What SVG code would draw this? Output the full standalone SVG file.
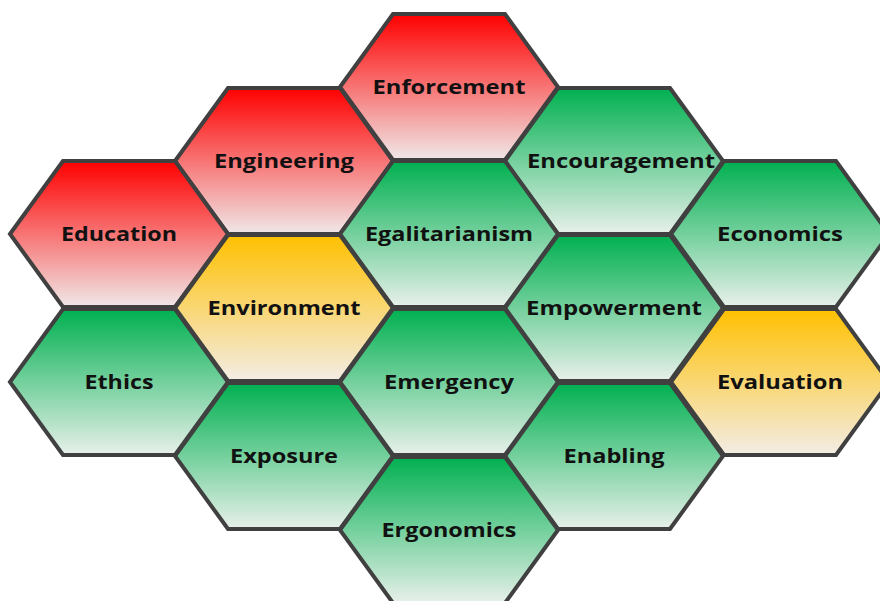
<svg xmlns="http://www.w3.org/2000/svg" width="880" height="601" viewBox="0 0 880 601">
<defs>
<linearGradient id="gr" x1="0" y1="0" x2="0" y2="1"><stop offset="0" stop-color="#ff0000"/><stop offset="1" stop-color="#f0e8e8"/></linearGradient>
<linearGradient id="gg" x1="0" y1="0" x2="0" y2="1"><stop offset="0" stop-color="#00b050"/><stop offset="1" stop-color="#e8f0ea"/></linearGradient>
<linearGradient id="gy" x1="0" y1="0" x2="0" y2="1"><stop offset="0" stop-color="#ffc000"/><stop offset="1" stop-color="#f3ede6"/></linearGradient>
<polygon id="hex" points="-109,0 -56,-73 56,-73 109,0 56,73 -56,73"/>
</defs>
<style>
.h{stroke:#404040;stroke-width:4;stroke-linejoin:miter}
.r{fill:url(#gr)}.g{fill:url(#gg)}.y{fill:url(#gy)}
text{font-family:"Open Sans","Liberation Sans",sans-serif;font-weight:bold;font-size:20px;fill:#111;text-anchor:middle}
</style>
<rect width="880" height="601" fill="#ffffff"/>
<g id="enforcement" transform="translate(449,87)"><use href="#hex" class="h r"/><text y="7" textLength="153" lengthAdjust="spacingAndGlyphs">Enforcement</text></g>
<g id="engineering" transform="translate(284,161)"><use href="#hex" class="h r"/><text y="7" textLength="140" lengthAdjust="spacingAndGlyphs">Engineering</text></g>
<g id="encouragement" transform="translate(614,161)"><use href="#hex" class="h g"/><text x="7" y="7" textLength="188" lengthAdjust="spacingAndGlyphs">Encouragement</text></g>
<g id="education" transform="translate(119,234)"><use href="#hex" class="h r"/><text y="7" textLength="116" lengthAdjust="spacingAndGlyphs">Education</text></g>
<g id="egalitarianism" transform="translate(449,234)"><use href="#hex" class="h g"/><text y="7" textLength="168" lengthAdjust="spacingAndGlyphs">Egalitarianism</text></g>
<g id="economics" transform="translate(780,234)"><use href="#hex" class="h g"/><text y="7" textLength="126" lengthAdjust="spacingAndGlyphs">Economics</text></g>
<g id="environment" transform="translate(284,308)"><use href="#hex" class="h y"/><text y="7" textLength="153" lengthAdjust="spacingAndGlyphs">Environment</text></g>
<g id="empowerment" transform="translate(614,308)"><use href="#hex" class="h g"/><text y="7" textLength="176" lengthAdjust="spacingAndGlyphs">Empowerment</text></g>
<g id="ethics" transform="translate(119,382)"><use href="#hex" class="h g"/><text y="7" textLength="69" lengthAdjust="spacingAndGlyphs">Ethics</text></g>
<g id="emergency" transform="translate(449,382)"><use href="#hex" class="h g"/><text y="7" textLength="130" lengthAdjust="spacingAndGlyphs">Emergency</text></g>
<g id="evaluation" transform="translate(780,382)"><use href="#hex" class="h y"/><text y="7" textLength="126" lengthAdjust="spacingAndGlyphs">Evaluation</text></g>
<g id="exposure" transform="translate(284,456)"><use href="#hex" class="h g"/><text y="7" textLength="108" lengthAdjust="spacingAndGlyphs">Exposure</text></g>
<g id="enabling" transform="translate(614,456)"><use href="#hex" class="h g"/><text y="7" textLength="101" lengthAdjust="spacingAndGlyphs">Enabling</text></g>
<g id="ergonomics" transform="translate(449,530)"><use href="#hex" class="h g"/><text y="7" textLength="135" lengthAdjust="spacingAndGlyphs">Ergonomics</text></g>
<g id="connectors"/>
</svg>
